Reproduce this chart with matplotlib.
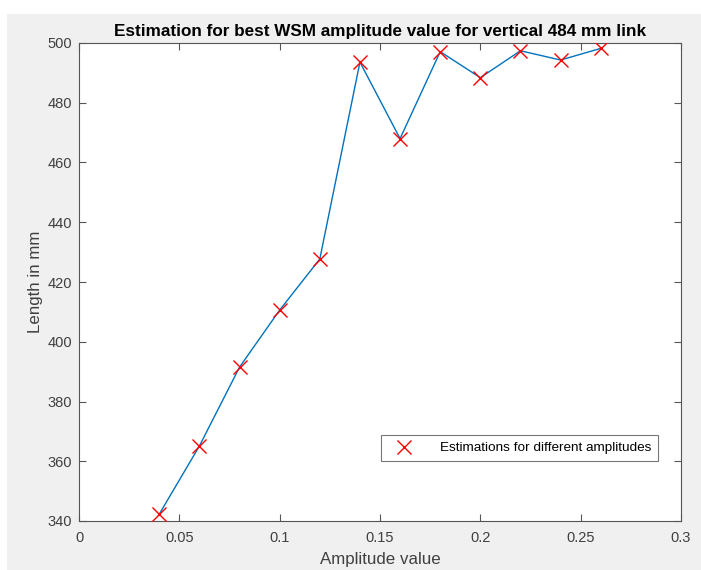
import matplotlib
matplotlib.use('Agg')
import matplotlib.pyplot as plt
from matplotlib.patches import Rectangle

# Datos
amplitudes = [0.04, 0.06, 0.08, 0.10, 0.12, 0.14, 0.16, 0.18, 0.20, 0.22, 0.24, 0.26]
lengths = [342.3, 365.1, 391.5, 410.6, 427.7, 493.6, 468.0, 497.1, 488.4, 497.4, 494.3, 498.2]
x_ticks = [0, 0.05, 0.1, 0.15, 0.2, 0.25, 0.3]
x_labels = ['0', '0.05', '0.1', '0.15', '0.2', '0.25', '0.3']
y_ticks = [340, 360, 380, 400, 420, 440, 460, 480, 500]

plt.rcParams['font.family'] = ['Liberation Sans', 'DejaVu Sans']

fig = plt.figure(figsize=(7.01, 5.70), dpi=100, facecolor='white')
# fondo gris estilo MATLAB (con margen blanco arriba/izquierda)
fig.patches.append(Rectangle((7 / 701, 0), 1, (570 - 14) / 570, transform=fig.transFigure,
                             facecolor='#f0f0f0', edgecolor='none', zorder=-10))

ax = fig.add_axes([79 / 701, 1 - 521 / 570, (681 - 79) / 701, (521 - 43) / 570])
ax.set_facecolor('white')

ax.plot(amplitudes, lengths, color='#0072BD', linewidth=1.0, zorder=2)
ax.plot(amplitudes, lengths, linestyle='none', marker='x', color='#FF0000',
        markersize=10, markeredgewidth=1.0, label='Estimations for different amplitudes', zorder=3)

ax.set_xlim(0, 0.3)
ax.set_ylim(340, 500)
ax.set_xticks(x_ticks)
ax.set_xticklabels(x_labels)
ax.set_yticks(y_ticks)

axis_color = '#555555'
text_color = '#404040'
for s in ax.spines.values():
    s.set_color(axis_color)
    s.set_linewidth(0.8)
ax.tick_params(direction='in', top=True, right=True, length=5, width=0.8,
               colors=axis_color, labelcolor=text_color, labelsize=10.5)
ax.tick_params(axis='x', pad=7)
ax.tick_params(axis='y', pad=5)

ax.set_xlabel('Amplitude value', fontsize=12.2, color=text_color, labelpad=5)
ax.set_ylabel('Length in mm', fontsize=12.2, color=text_color, labelpad=3)
ax.set_title('Estimation for best WSM amplitude value for vertical 484 mm link',
             fontsize=12.3, fontweight='bold', color='black', pad=5)

leg = ax.legend(loc='lower right', bbox_to_anchor=(0.962, 0.1255), fontsize=9.7,
                frameon=True, fancybox=False, edgecolor=axis_color, borderaxespad=0,
                handlelength=2.5, borderpad=0.5, handletextpad=1.4)
leg.get_frame().set_linewidth(0.8)
for t in leg.get_texts():
    t.set_color('black')

plt.savefig('out.png', dpi=100, facecolor=fig.get_facecolor())
plt.close()
